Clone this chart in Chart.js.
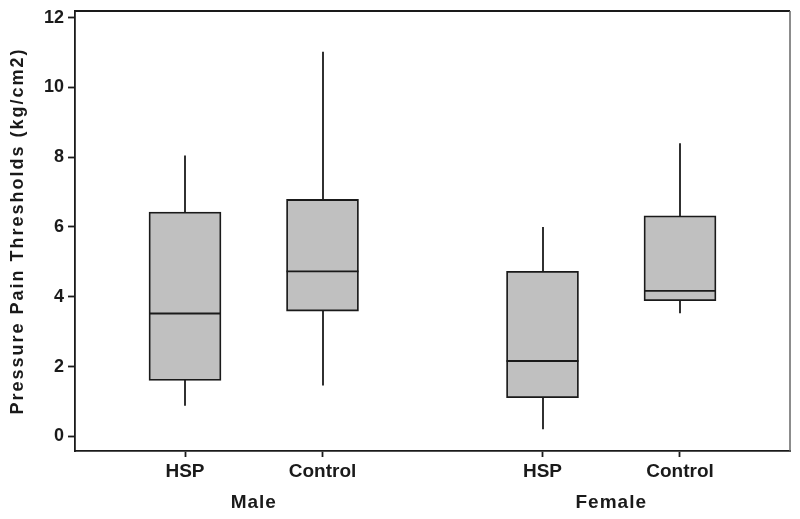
<!DOCTYPE html>
<html>
<head>
<meta charset="utf-8">
<script src="https://cdn.jsdelivr.net/npm/chart.js@4"></script>
<style>
  html, body { margin: 0; padding: 0; background: #fff; }
  #wrap { width: 800px; height: 519px; }
</style>
</head>
<body>
<div id="wrap"><canvas id="chartBox"></canvas></div>
<script>
  // Pressure pain thresholds by sex and group (box plots)
  var groups = ['Male', 'Female'];
  var categories = ['HSP', 'Control', 'HSP', 'Control'];
  var positions = [1, 2, 3.6, 4.6];
  var mins = [0.88, 1.46, 0.20, 3.53];
  var q1s = [1.60, 3.59, 1.11, 3.89];
  var medians = [3.52, 4.73, 2.16, 4.17];
  var q3s = [6.43, 6.79, 4.73, 6.32];
  var maxs = [8.05, 11.02, 6.00, 8.40];
  var yTicks = [0, 2, 4, 6, 8, 10, 12];
  var yTitle = 'Pressure Pain Thresholds (kg/cm2)';

  var FONT = '"Liberation Sans", Arial, sans-serif';
  var INK = '#1a1a1a';

  var boxPlot = {
    id: 'boxPlot',
    beforeDatasetsDraw: function (chart) {
      var ctx = chart.ctx, y = chart.scales.y, x = chart.scales.x;
      ctx.save();
      ctx.strokeStyle = INK;
      ctx.lineWidth = 1.8;
      positions.forEach(function (p, i) {
        var px = Math.round(x.getPixelForValue(p));
        ctx.beginPath();
        ctx.moveTo(px, y.getPixelForValue(mins[i]));
        ctx.lineTo(px, y.getPixelForValue(maxs[i]));
        ctx.stroke();
      });
      ctx.restore();
    },
    afterDatasetsDraw: function (chart) {
      var ctx = chart.ctx, y = chart.scales.y, x = chart.scales.x, a = chart.chartArea;
      var bars = chart.getDatasetMeta(0).data;
      ctx.save();
      ctx.strokeStyle = INK;
      ctx.lineWidth = 1.8;
      bars.forEach(function (b, i) {
        var py = y.getPixelForValue(medians[i]);
        ctx.beginPath();
        ctx.moveTo(b.x - b.width / 2, py);
        ctx.lineTo(b.x + b.width / 2, py);
        ctx.stroke();
      });
      // frame top and right
      ctx.beginPath();
      ctx.moveTo(a.left, a.top);
      ctx.lineTo(a.right, a.top);
      ctx.stroke();
      ctx.strokeStyle = '#666';
      ctx.lineWidth = 1.5;
      ctx.beginPath();
      ctx.moveTo(a.right, a.top);
      ctx.lineTo(a.right, a.bottom);
      ctx.stroke();

      // group labels
      ctx.fillStyle = INK;
      ctx.font = 'bold 19px ' + FONT;
      ctx.letterSpacing = '1px';
      ctx.textAlign = 'center';
      ctx.textBaseline = 'middle';
      groups.forEach(function (g, k) {
        var mid = (positions[2 * k] + positions[2 * k + 1]) / 2;
        ctx.fillText(g, x.getPixelForValue(mid), 503);
      });

      // y title
      ctx.font = 'bold 18px ' + FONT;
      ctx.letterSpacing = '2px';
      ctx.translate(18, (a.top + a.bottom) / 2);
      ctx.rotate(-Math.PI / 2);
      ctx.fillText(yTitle, 0, 0);
      ctx.restore();
    }
  };

  new Chart(document.getElementById('chartBox').getContext('2d'), {
    type: 'bar',
    data: {
      datasets: [{
        data: positions.map(function (p, i) { return { x: p, y: [q1s[i], q3s[i]] }; }),
        backgroundColor: '#c0c0c0',
        borderColor: INK,
        borderWidth: 1.8,
        borderSkipped: false,
        barThickness: 72
      }]
    },
    options: {
      responsive: true,
      maintainAspectRatio: false,
      animation: false,
      layout: { padding: { top: 11, right: 10, left: 0, bottom: 0 } },
      plugins: { legend: { display: false }, tooltip: { enabled: false } },
      scales: {
        x: {
          type: 'linear',
          min: 0.2,
          max: 5.4,
          offset: false,
          afterBuildTicks: function (s) { s.ticks = positions.map(function (v) { return { value: v }; }); },
          afterFit: function (s) { s.height = 68; s.paddingLeft = 0; s.paddingRight = 0; },
          grid: { display: true, drawOnChartArea: false, offset: false, tickLength: 6, tickWidth: 1.8, color: INK },
          border: { display: true, color: INK, width: 1.8 },
          ticks: {
            color: INK,
            padding: 3,
            maxRotation: 0,
            autoSkip: false,
            font: { family: FONT, size: 19, weight: 'bold' },
            callback: function (v, i) { return categories[i]; }
          }
        },
        y: {
          min: -0.42,
          max: 12.19,
          afterBuildTicks: function (s) { s.ticks = yTicks.map(function (v) { return { value: v }; }); },
          afterFit: function (s) { s.width = 75; s.paddingTop = 0; s.paddingBottom = 0; },
          grid: { display: true, drawOnChartArea: false, tickLength: 7, tickWidth: 1.8, color: INK },
          border: { display: true, color: INK, width: 1.8 },
          ticks: {
            color: INK,
            padding: 4,
            font: { family: FONT, size: 18, weight: 'bold' }
          }
        }
      }
    },
    plugins: [boxPlot]
  });
</script>
</body>
</html>
